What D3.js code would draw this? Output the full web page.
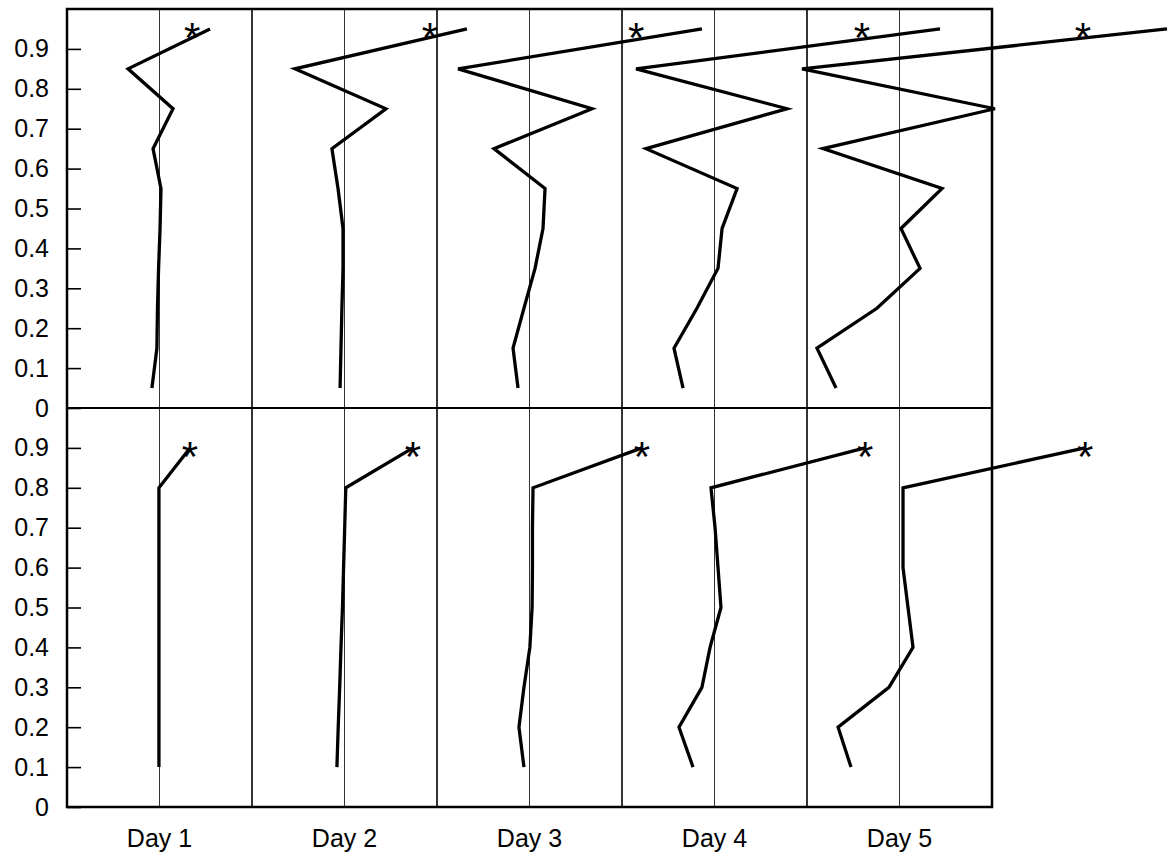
<!DOCTYPE html>
<html>
<meta charset="utf-8">
<style>
  body { margin: 0; background: #fff; }
  svg { display: block; }
  text { font-family: "Liberation Sans", Arial, sans-serif; }
</style>
<body>
  <svg></svg>
</body>
<script src="https://d3js.org/d3.v7.min.js"></script>
<script>

  // values
  var days = ["Day 1", "Day 2", "Day 3", "Day 4", "Day 5"];
  var tickValues = [0, 0.1, 0.2, 0.3, 0.4, 0.5, 0.6, 0.7, 0.8, 0.9];
  var tickLabels = ["0", "0.1", "0.2", "0.3", "0.4", "0.5", "0.6", "0.7", "0.8", "0.9"];

  // top panel: level of each point, and horizontal offset from the day's centre line (in days)
  var topLevels = [0.05, 0.15, 0.25, 0.35, 0.45, 0.55, 0.65, 0.75, 0.85, 0.95];
  var topDay1 = [-0.041, -0.014, -0.011, -0.005, 0.003, 0.008, -0.035, 0.073, -0.170, 0.273];
  var topDay2 = [-0.024, -0.019, -0.014, -0.008, -0.008, -0.035, -0.068, 0.224, -0.268, 0.662];
  var topDay3 = [-0.062, -0.089, -0.030, 0.030, 0.073, 0.084, -0.192, 0.338, -0.386, 0.932];
  var topDay4 = [-0.170, -0.219, -0.095, 0.019, 0.041, 0.122, -0.370, 0.392, -0.424, 1.219];
  var topDay5 = [-0.343, -0.446, -0.122, 0.111, 0.008, 0.230, -0.414, 0.516, -0.527, 1.446];
  var topStars = [0.176, 0.462, 0.576, 0.797, 0.992];
  var topStarLevel = 0.95;

  // bottom panel
  var bottomLevels = [0.1, 0.2, 0.3, 0.4, 0.5, 0.6, 0.7, 0.8, 0.9];
  var bottomDay1 = [-0.003, -0.003, -0.003, -0.003, -0.003, -0.003, -0.003, -0.003, 0.165];
  var bottomDay2 = [-0.041, -0.034, -0.026, -0.019, -0.011, -0.005, 0.001, 0.007, 0.370];
  var bottomDay3 = [-0.030, -0.057, -0.030, 0.002, 0.014, 0.016, 0.016, 0.019, 0.608];
  var bottomDay4 = [-0.116, -0.192, -0.068, -0.024, 0.035, 0.019, 0.003, -0.019, 0.814];
  var bottomDay5 = [-0.262, -0.332, -0.057, 0.073, 0.046, 0.019, 0.019, 0.019, 1.003];

  var topSeries = [topDay1, topDay2, topDay3, topDay4, topDay5];
  var bottomSeries = [bottomDay1, bottomDay2, bottomDay3, bottomDay4, bottomDay5];

  var W = 1171, H = 855;
  var plotLeft = 67, plotRight = 992, plotTop = 9, plotMid = 408, plotBottom = 807;

  var svg = d3.select("svg").attr("width", W).attr("height", H);

  var x = d3.scaleLinear().domain([0.5, 5.5]).range([plotLeft, plotRight]);
  var yTop = d3.scaleLinear().domain([0, 1]).range([plotMid, plotTop]);
  var yBottom = d3.scaleLinear().domain([0, 1]).range([plotBottom, plotMid]);

  // thin centre line for each day
  svg.selectAll("line.centre")
    .data(days)
    .enter().append("line")
    .attr("x1", function(d, i) { return x(i + 1); })
    .attr("x2", function(d, i) { return x(i + 1); })
    .attr("y1", plotTop).attr("y2", plotBottom)
    .attr("stroke", "#333").attr("stroke-width", 1);

  // column dividers
  svg.selectAll("line.divider")
    .data(days.slice(1))
    .enter().append("line")
    .attr("x1", function(d, i) { return x(i + 1.5); })
    .attr("x2", function(d, i) { return x(i + 1.5); })
    .attr("y1", plotTop).attr("y2", plotBottom)
    .attr("stroke", "#000").attr("stroke-width", 1.6);

  // frame and the line between the panels
  svg.append("rect")
    .attr("x", plotLeft).attr("y", plotTop)
    .attr("width", plotRight - plotLeft).attr("height", plotBottom - plotTop)
    .attr("fill", "none").attr("stroke", "#000").attr("stroke-width", 2.5);
  svg.append("line")
    .attr("x1", plotLeft).attr("x2", plotRight)
    .attr("y1", plotMid).attr("y2", plotMid)
    .attr("stroke", "#000").attr("stroke-width", 2.2);

  // y axes, ticks pointing inside
  function drawAxis(scale) {
    var g = svg.append("g")
      .attr("transform", "translate(" + plotLeft + ",0)")
      .call(d3.axisLeft(scale)
        .tickValues(tickValues)
        .tickFormat(function(d, i) { return tickLabels[i]; })
        .tickSizeInner(-14).tickSizeOuter(0).tickPadding(18));
    g.select(".domain").remove();
    g.selectAll(".tick line").attr("stroke", "#000").attr("stroke-width", 1.6);
    g.selectAll(".tick text")
      .attr("fill", "#000")
      .style("font-family", "'Liberation Sans', Arial, sans-serif")
      .style("font-size", "25px");
  }
  drawAxis(yTop);
  drawAxis(yBottom);

  // profiles
  function drawPanel(series, levels, yScale) {
    series.forEach(function(offsets, di) {
      var line = d3.line()
        .x(function(d) { return x(di + 1 + d); })
        .y(function(d, i) { return yScale(levels[i]); });
      svg.append("path")
        .datum(offsets)
        .attr("d", line)
        .attr("fill", "none")
        .attr("stroke", "#000")
        .attr("stroke-width", 3.3)
        .attr("stroke-linejoin", "miter");
    });
  }
  drawPanel(topSeries, topLevels, yTop);
  drawPanel(bottomSeries, bottomLevels, yBottom);

  // asterisks
  svg.selectAll("text.star-top")
    .data(topStars)
    .enter().append("text")
    .attr("x", function(d, i) { return x(i + 1 + d); })
    .attr("y", yTop(topStarLevel))
    .attr("dy", "0.55em")
    .attr("text-anchor", "middle")
    .style("font-size", "42px")
    .text("*");

  svg.selectAll("text.star-bottom")
    .data(bottomSeries)
    .enter().append("text")
    .attr("x", function(d, i) { return x(i + 1 + d[d.length - 1]); })
    .attr("y", yBottom(bottomLevels[bottomLevels.length - 1]))
    .attr("dy", "0.55em")
    .attr("text-anchor", "middle")
    .style("font-size", "42px")
    .text("*");

  // day labels
  svg.selectAll("text.day")
    .data(days)
    .enter().append("text")
    .attr("x", function(d, i) { return x(i + 1); })
    .attr("y", 847)
    .attr("text-anchor", "middle")
    .style("font-size", "25px")
    .text(function(d) { return d; });

</script>
</html>
